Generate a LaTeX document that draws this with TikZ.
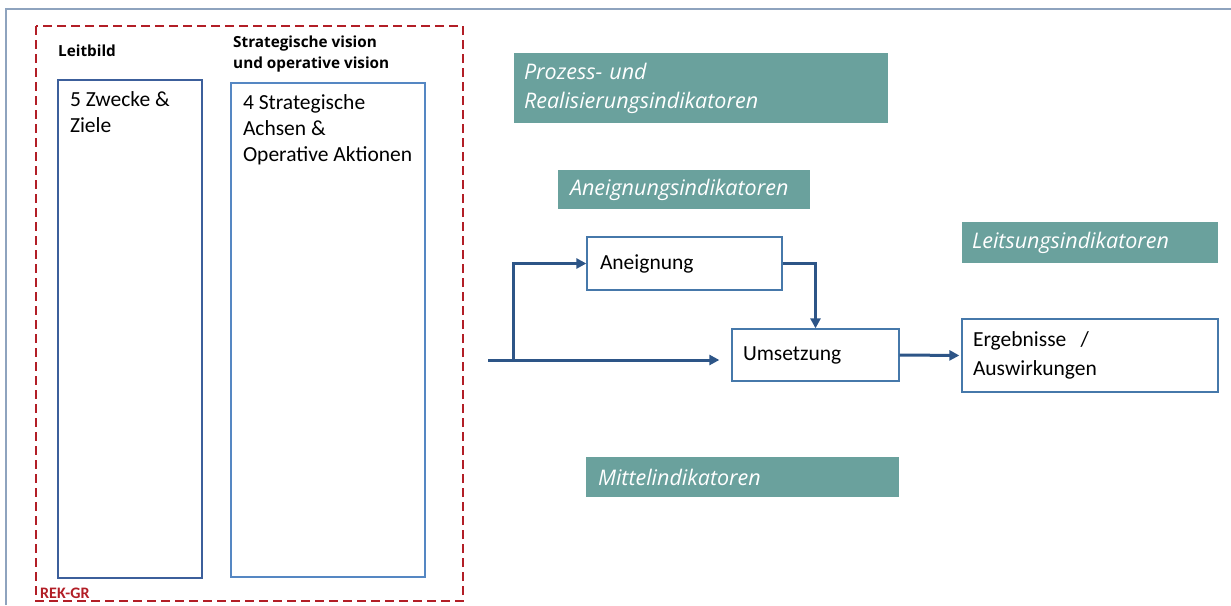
\documentclass[tikz,border=0pt]{standalone}
\usepackage{fontspec}
\setmainfont{Carlito}
\newfontfamily\headfont{Open Sans}
\usepackage{tikz}
\usetikzlibrary{arrows.meta}

\definecolor{frameblue}{RGB}{142,163,190}
\definecolor{rekred}{RGB}{178,30,38}
\definecolor{darkbox}{RGB}{60,95,155}
\definecolor{lightbox}{RGB}{85,135,195}
\definecolor{procline}{RGB}{70,120,170}
\definecolor{flowblue}{RGB}{45,85,135}
\definecolor{teal}{RGB}{106,161,157}

\tikzset{
  indicator/.style={fill=teal, text=white, align=left, inner xsep=10pt,
    font=\headfont\itshape\fontsize{21.5}{29}\selectfont},
  process/.style={draw=procline, line width=1.3pt, align=left, inner xsep=11pt,
    font=\fontsize{21.5}{29}\selectfont},
  column/.style={line width=2pt, inner xsep=12pt, inner ysep=12pt,
    font=\fontsize{21.5}{26}\selectfont},
  heading/.style={anchor=west, inner sep=0pt, align=left,
    font=\headfont\bfseries\fontsize{15.3}{21}\selectfont},
  flow/.style={-{Triangle[length=10pt,width=10pt]}, line width=3pt, draw=flowblue}
}

\begin{document}
\begin{tikzpicture}[x=1pt, y=-1pt]
  \useasboundingbox (0,0) rectangle (1231,605);
  \draw[frameblue, line width=1.2pt] (6,605) -- (6,9) -- (1231,9);
  \draw[rekred, line width=2.6pt, dash pattern=on 9pt off 5pt] (36,26) rectangle (463,601);
  \node[anchor=west, inner sep=0pt, text=rekred, font=\bfseries\fontsize{16}{18}\selectfont] (RekGr) at (40,593) {REK-GR};

  \node[heading] (LeitbildHead) at (58,51) {Leitbild};
  \node[heading] (VisionHead) at (233,54.5) {Strategische vision\\und operative vision};
  \node[column, draw=darkbox] (Leitbild) at (130,329) {\parbox[t][474pt][t]{120pt}{5 Zwecke \&\\Ziele}};
  \node[column, draw=lightbox] (Vision) at (328,330) {\parbox[t][470pt][t]{170pt}{4 Strategische\\Achsen \&\\Operative Aktionen}};

  \node[indicator, text width=354pt, minimum height=70pt] (Prozess) at (701,88) {Prozess- und\\Realisierungsindikatoren};
  \node[indicator, text width=228pt, minimum height=39pt, inner xsep=12pt] (AneignInd) at (684,189.5) {Aneignungsindikatoren};
  \node[indicator, text width=236pt, minimum height=41pt] (LeistInd) at (1090,242.5) {Leitsungsindikatoren};
  \node[indicator, text width=289pt, minimum height=40pt, inner xsep=12pt] (MittelInd) at (742.5,477) {Mittelindikatoren};

  \node[process, text width=169pt, minimum height=53pt, inner xsep=13pt] (Aneignung) at (684.5,263.5) {Aneignung};
  \node[process, text width=145pt, minimum height=52pt] (Umsetzung) at (815.5,355) {Umsetzung};
  \node[process, text width=234pt, minimum height=73pt] (Ergebnisse) at (1090,355.5) {Ergebnisse\ \ /\\Auswirkungen};

  \coordinate (In) at (488,360);
  \coordinate (Split) at (513,360);
  \draw[flow, shorten >=12pt] (In) -- (Umsetzung.west |- In);
  \draw[flow] (Split) |- (Aneignung.west);
  \draw[flow] (Aneignung.east) -| (Umsetzung.north);
  \draw[flow, shorten >=2pt] (Umsetzung.east) -- (Ergebnisse.west);
\end{tikzpicture}
\end{document}
